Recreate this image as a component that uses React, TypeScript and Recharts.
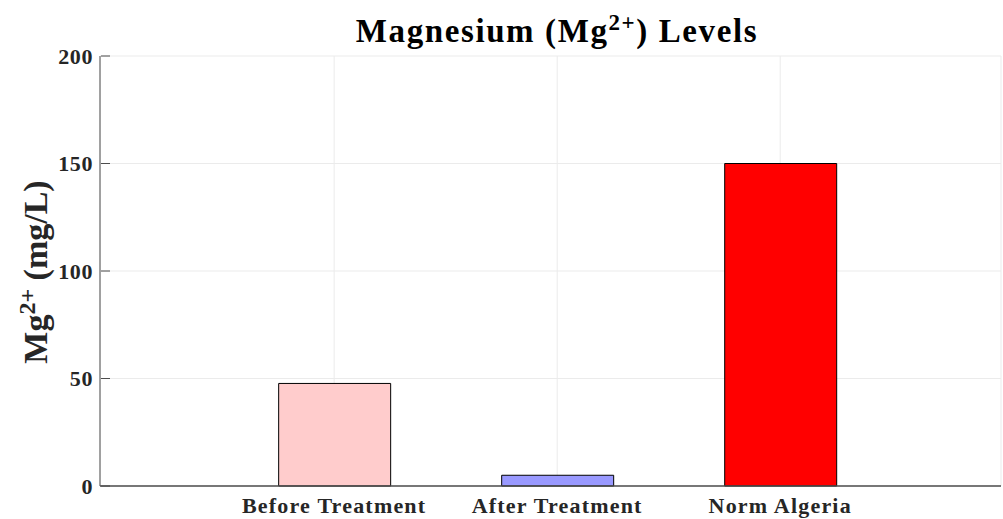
import { BarChart, Bar, XAxis, YAxis, CartesianGrid, Cell } from "recharts"

const categories = ["Before Treatment", "After Treatment", "Norm Algeria"]
const mgValues = [47.7, 5, 150]
const yTicks = [0, 50, 100, 150, 200]

const barColors = ["#ffcccc", "#9999ff", "#ff0000"]

const chartData = categories.map((name, i) => ({ pos: i + 1, name, value: mgValues[i] }))

const FONT = "'Liberation Serif', 'Times New Roman', serif"
const AXIS = "#4d4d4d"

function YTick(props: any) {
  const { x, y, payload } = props
  return (
    <g>
      <line x1={x + 8} x2={x + 17} y1={y} y2={y} stroke={AXIS} />
      <text x={x} y={y} dy="0.35em" textAnchor="end" fontFamily={FONT} fontWeight="bold" fontSize={22} letterSpacing={0.6} fill="#262626">
        {payload.value}
      </text>
    </g>
  )
}

function XTick(props: any) {
  const { x, y, payload } = props
  return (
    <text x={x} y={y} dy="0.71em" textAnchor="middle" fontFamily={FONT} fontWeight="bold" fontSize={22} letterSpacing={1.2} fill="#262626">
      {categories[payload.value - 1]}
    </text>
  )
}

export default function App() {
  return (
    <div style={{ position: "absolute", left: 0, top: 0, width: 1003, height: 519, background: "#fff", fontFamily: FONT }}>
      <BarChart width={1003} height={519} data={chartData} margin={{ top: 56, right: 2, bottom: 3, left: 40 }}>
        <CartesianGrid stroke="#ebebeb" vertical horizontal />
        <XAxis
          dataKey="pos"
          type="number"
          domain={[-0.05, 3.99]}
          ticks={[1, 2, 3]}
          allowDataOverflow
          height={30}
          tickSize={0}
          tickMargin={11}
          axisLine={{ stroke: AXIS, strokeWidth: 1.5 }}
          tickLine={false}
          tick={<XTick />}
        />
        <XAxis xAxisId="top" orientation="top" dataKey="pos" type="number" domain={[-0.05, 3.99]} height={0} tick={false} tickLine={false} axisLine={{ stroke: AXIS }} />
        <YAxis
          domain={[0, 200]}
          ticks={yTicks}
          width={60}
          tickSize={0}
          tickMargin={7}
          axisLine={{ stroke: AXIS }}
          tickLine={false}
          tick={<YTick />}
        />
        <Bar dataKey="value" barSize={112} stroke="#000" strokeWidth={1} isAnimationActive={false}>
          {chartData.map((d, i) => (
            <Cell key={d.name} fill={barColors[i]} />
          ))}
        </Bar>
      </BarChart>
      <div style={{ position: "absolute", left: 100, width: 914, top: 11, textAlign: "center", fontSize: 33, letterSpacing: 1.6, fontWeight: "bold", color: "#000", lineHeight: "40px" }}>
        Magnesium (Mg<sup style={{ fontSize: 23, lineHeight: 0 }}>2+</sup>) Levels
      </div>
      <div
        style={{
          position: "absolute",
          left: 36,
          top: 272,
          transform: "translate(-50%, -50%) rotate(-90deg)",
          whiteSpace: "nowrap",
          fontSize: 34,
          fontWeight: "bold",
          color: "#262626",
          lineHeight: "40px",
        }}
      >
        Mg<sup style={{ fontSize: 24, lineHeight: 0 }}>2+</sup> (mg/L)
      </div>
    </div>
  )
}
